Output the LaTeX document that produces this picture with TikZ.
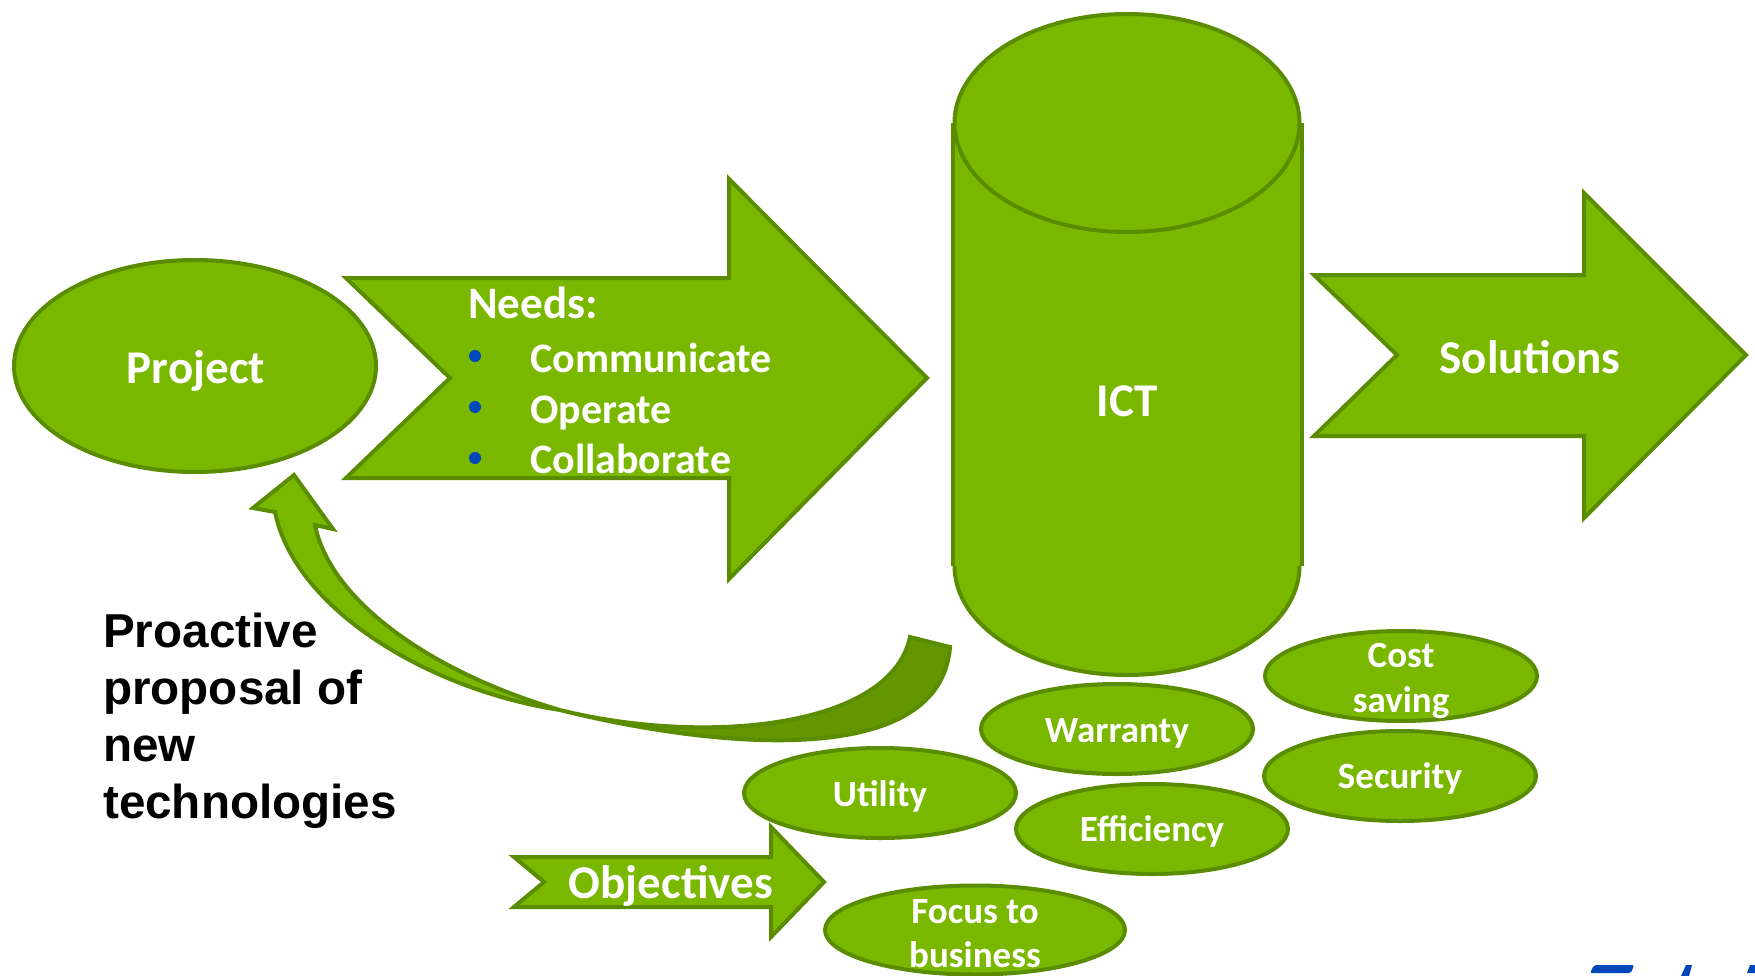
\documentclass[tikz,border=0pt]{standalone}
\usepackage{fontspec}
\setmainfont{Carlito}
\newfontfamily\arialfont{Liberation Sans}
\usetikzlibrary{shapes.geometric}
\definecolor{gfill}{HTML}{7AB800}
\definecolor{gline}{HTML}{5A8C00}
\definecolor{gdark}{HTML}{649600}
\definecolor{bblue}{HTML}{0047BB}
\begin{document}
\begin{tikzpicture}[x=1pt,y=-1pt,
  shp/.style={fill=gfill,draw=gline,line width=4pt,line join=miter},
  oval/.style={shp,ellipse,inner sep=0pt},
  wbig/.style={text=white,font=\bfseries\fontsize{47}{56}\selectfont,anchor=base,inner sep=0pt},
  wmid/.style={text=white,font=\bfseries\fontsize{42}{50}\selectfont,anchor=base west,inner sep=0pt},
  wsm/.style={text=white,font=\bfseries\fontsize{37}{44}\selectfont,anchor=base,inner sep=0pt},
  blab/.style={text=black,font=\arialfont\bfseries\fontsize{47.6}{57}\selectfont,anchor=base west,inner sep=0pt},
  bullet/.style={circle,fill=bblue,minimum size=12pt,inner sep=0pt}]
\useasboundingbox (0,0) rectangle (1755,976);

% Needs arrow
\path[shp] (346,278) -- (729,278) -- (729,179) -- (927,378) -- (729,579) -- (729,478) -- (346,478) -- (450,378) -- cycle;
% Project
\node[oval,minimum width=362pt,minimum height=212pt] (project) at (195,366) {};
\node[wbig] (projectlab) at (196,383) {Project};

% Needs text
\node[wmid,font=\bfseries\fontsize{45}{50}\selectfont] (needs) at (468,318) {Needs:};
\node[bullet] (b1) at (475,356) {};
\node[bullet] (b2) at (475,407) {};
\node[bullet] (b3) at (475,458) {};
\node[wmid] (comm) at (530,372) {Communicate};
\node[wmid] (oper) at (530,423) {Operate};
\node[wmid] (collab) at (530,473) {Collaborate};

% ICT cylinder
\node[oval,minimum width=345pt,minimum height=218pt] (ictbottom) at (1127,566) {};
\fill[gfill] (953,123) rectangle (1302,566);
\draw[gline,line width=4pt] (953,123) -- (953,566);
\draw[gline,line width=4pt] (1302,123) -- (1302,566);
\node[oval,minimum width=345pt,minimum height=218pt] (icttop) at (1127,123) {};
\node[wbig] (ict) at (1127,416) {ICT};

% Solutions arrow
\path[shp] (1314,275) -- (1584,275) -- (1584,193) -- (1746,355) -- (1584,518) -- (1584,436) -- (1314,436) -- (1397,355) -- cycle;
\node[wbig] (solutions) at (1530,373) {Solutions};

% Curved arrow (proactive proposal)
\path[shp] (294,475) -- (333,529) -- (315,525) .. controls (330,600) and (430,672) .. (560,710)
  .. controls (430,690) and (295,610) .. (275,512) -- (253,508) -- cycle;
\path[shp,fill=gdark] (560,710) .. controls (700,745) and (940,775) .. (950,647) -- (910,637)
  .. controls (890,730) and (700,745) .. (560,710) -- cycle;

% Proactive text
\node[blab] (pro1) at (103,647) {Proactive};
\node[blab] (pro2) at (103,704) {proposal of};
\node[blab] (pro3) at (103,761) {new};
\node[blab] (pro4) at (103,818) {technologies};

% Objectives arrow
\path[shp] (514,857) -- (771,857) -- (771,827) -- (824,882) -- (771,937) -- (771,907) -- (514,907) -- (544,882) -- cycle;
\node[wbig] (objectives) at (671,898) {Objectives};

% Objective ellipses
\node[oval,minimum width=272pt,minimum height=90pt] (cost) at (1401,676) {};
\node[wsm] (cost1) at (1401,667) {Cost};
\node[wsm] (cost2) at (1401,712) {saving};
\node[oval,minimum width=272pt,minimum height=90pt] (warranty) at (1117,729) {};
\node[wsm] (warrantylab) at (1117,742) {Warranty};
\node[oval,minimum width=272pt,minimum height=90pt] (security) at (1400,776) {};
\node[wsm] (securitylab) at (1400,788) {Security};
\node[oval,minimum width=272pt,minimum height=90pt] (utility) at (880,793) {};
\node[wsm] (utilitylab) at (880,806) {Utility};
\node[oval,minimum width=272pt,minimum height=90pt] (efficiency) at (1152,829) {};
\node[wsm] (efficiencylab) at (1152,841) {Efficiency};
\node[oval,minimum width=300pt,minimum height=89pt] (focus) at (975,930) {};
\node[wsm] (focus1) at (975,923) {Focus to};
\node[wsm] (focus2) at (975,967) {business};

% blue fragments bottom right
\fill[bblue,rounded corners=2pt] (1594,965) -- (1634,965) -- (1631,973) -- (1590,973) -- cycle;
\fill[bblue] (1686,965) -- (1692,965) -- (1689,976) -- (1681,976) -- cycle;
\fill[bblue] (1750,965) -- (1755,965) -- (1755,973) -- (1747,973) -- cycle;
\end{tikzpicture}
\end{document}
